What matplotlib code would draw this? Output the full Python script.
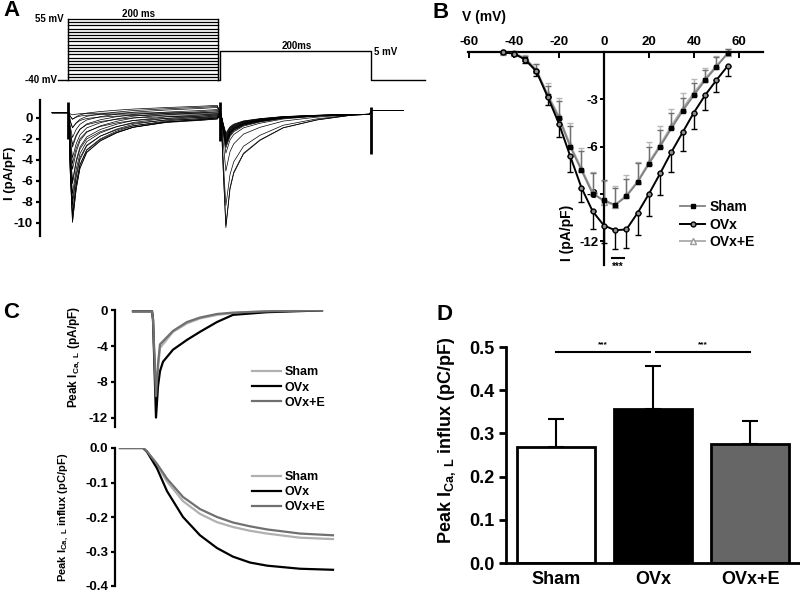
import numpy as np
import matplotlib.pyplot as plt

plt.rcParams['font.family'] = ['Liberation Sans', 'DejaVu Sans']
plt.rcParams['font.weight'] = 'bold'
plt.rcParams['axes.labelweight'] = 'bold'
plt.rcParams['axes.unicode_minus'] = False
plt.rcParams['mathtext.fontset'] = 'custom'
plt.rcParams['mathtext.rm'] = 'Liberation Sans:bold'
plt.rcParams['mathtext.it'] = 'Liberation Sans:bold'
plt.rcParams['mathtext.bf'] = 'Liberation Sans:bold'

W, H = 800, 594

# ---------------- data ----------------
# A: voltage protocol
step_mv = [-40, -35, -30, -25, -20, -15, -10, -5, 0, 5, 10, 15, 20, 25, 30, 35, 40, 45, 50, 55]
hold_mv = -40
test_mv = 5
hold_start = -13
pre_ms = 200
gap_ms = 3
test_ms = 201
proto_end = 476

# A: current traces (one per prepulse step)
peak1 = [-0.2, -0.6, -1.4, -3.0, -4.8, -6.7, -8.3, -9.7, -10.4, -10.3,
         -9.7, -8.8, -7.7, -6.5, -5.4, -4.3, -3.3, -2.4, -1.5, -0.7]
base1 = [0.5, 0.4, 0.3, 0.2, 0.1, 0.0, -0.1, -0.1, 0.0, 0.0,
         0.1, 0.2, 0.3, 0.4, 0.6, 0.7, 0.8, 1.0, 1.1, 1.2]
peak2 = [-10.8, -10.6, -8.7, -5.4, -3.7, -3.2, -3.0, -2.9, -2.8, -2.7,
         -2.6, -2.6, -2.5, -2.4, -2.3, -2.2, -2.1, -2.0, -1.9, -1.8]
start1 = 0.5
test_level = 0.35
t1 = [1, 3, 6, 11, 16, 25, 43, 65, 87, 131, 176, 199]
shape1 = [0, 0.55, 1.0, 0.69, 0.5, 0.35, 0.24, 0.16, 0.105, 0.05, 0.02, 0.0]
ramp1 = [0, 0.05, 0.1, 0.15, 0.2, 0.3, 0.4, 0.5, 0.6, 0.75, 0.9, 1.0]
t2 = [1, 4, 7.5, 13, 18, 31, 53, 84, 129, 173, 199]
shape2 = [0, 0.5, 1.0, 0.66, 0.52, 0.35, 0.23, 0.12, 0.05, 0.01, 0]
pre_t = [-21, -1]
pre_level = 0.5
post_t = [405, 447]
post_level = 0.7
spike_t = [0, 203, 404]
spike_hi = [1.5, 1.5, 1.0]
spike_lo = [-2.0, -2.2, -3.4]

# B: I-V relation
iv_mv = [-45, -40, -35, -30, -25, -20, -15, -10, -5, 0, 5, 10, 15, 20, 25, 30, 35, 40, 45, 50, 55]
sham = [-0.05, -0.1, -0.45, -1.2, -2.8, -4.2, -6.0, -7.5, -9.0, -9.4, -9.7,
        -9.15, -8.25, -7.1, -6.0, -4.85, -3.75, -2.75, -1.8, -0.95, -0.1]
ovx = [-0.05, -0.12, -0.5, -1.25, -2.85, -4.55, -6.6, -8.6, -10.1, -11.0, -11.3,
       -11.25, -10.2, -9.0, -7.7, -6.35, -5.1, -3.85, -2.75, -1.8, -0.9]
ovxe = [-0.05, -0.1, -0.4, -1.15, -2.7, -4.1, -5.9, -7.4, -8.9, -9.5, -9.7,
        -9.1, -8.2, -7.0, -5.9, -4.7, -3.6, -2.6, -1.7, -0.9, -0.1]
sham_err = [0.05, 0.1, 0.2, 0.4, 0.6, 1.1, 1.3, 1.2, 1.3, 1.3, 1.1,
            1.1, 1.2, 1.1, 1.05, 0.95, 0.8, 0.75, 0.65, 0.6, 0.3]
ovxe_err = [0.05, 0.1, 0.2, 0.4, 0.7, 1.2, 1.4, 1.3, 1.3, 1.3, 1.2,
            1.3, 1.2, 1.3, 1.2, 1.1, 1.0, 0.9, 0.7, 0.6, 0.3]
ovx_err = [0.05, 0.1, 0.2, 0.3, 0.5, 0.85, 1.0, 0.9, 1.1, 1.1, 1.16,
           1.2, 1.4, 1.37, 1.4, 1.27, 1.16, 1.06, 0.95, 0.74, 0.65]
sig_mv = [3.6, 8.9]
sig_level = -13.08

# C top: peak current traces
c_sham_t = [0, 19, 20, 23, 25, 27, 40, 54, 67, 84, 100, 134, 189]
c_sham = [-0.1, -0.1, -1.0, -10.0, -6.5, -4.2, -2.4, -1.45, -0.9, -0.5, -0.3, -0.1, 0.0]
c_ovx_t = [0, 19, 20, 23, 25, 27, 30, 40, 54, 67, 84, 100, 134, 189]
c_ovx = [-0.1, -0.1, -1.0, -12.0, -8.5, -6.8, -5.75, -4.4, -3.3, -2.4, -1.3, -0.5, -0.2, 0.0]
c_ovxe_t = [0, 19, 20, 23, 25, 27, 40, 54, 67, 84, 100, 134, 189]
c_ovxe = [-0.1, -0.1, -1.0, -9.6, -6.0, -3.8, -2.3, -1.3, -0.8, -0.4, -0.25, -0.1, 0.0]

# C bottom: integrated influx
q_t = [-13, 10, 14, 24, 34, 50, 67, 84, 100, 117, 134, 167, 200]
q_sham = [0, 0, -0.01, -0.049, -0.097, -0.154, -0.191, -0.215, -0.229, -0.24, -0.248, -0.26, -0.264]
q_ovx = [0, 0, -0.011, -0.059, -0.125, -0.2, -0.253, -0.29, -0.315, -0.332, -0.341, -0.35, -0.353]
q_ovxe = [0, 0, -0.01, -0.046, -0.089, -0.142, -0.177, -0.2, -0.216, -0.227, -0.236, -0.248, -0.253]

# D: bar chart
groups = ['Sham', 'OVx', 'OVx+E']
influx = [0.268, 0.357, 0.275]
influx_err = [0.065, 0.100, 0.054]
bar_colors = ['white', 'black', '#666666']
sig_pairs = [(0, 0.97), (1.03, 2.0)]
sig_y = 0.488

fig = plt.figure(figsize=(W / 100, H / 100), dpi=100)


def add_ax(x0, y0, x1, y1):
    return fig.add_axes([x0 / W, 1 - y1 / H, (x1 - x0) / W, (y1 - y0) / H])


def ftext(x, y, s, **kw):
    fig.text(x / W, 1 - y / H, s, **kw)


def left_only(ax, lw=1.6):
    for s in ['top', 'right', 'bottom']:
        ax.spines[s].set_visible(False)
    ax.spines['left'].set_linewidth(lw)
    ax.set_xticks([])
    ax.tick_params(axis='y', width=lw, length=3)


# ---------------- A: protocol ----------------
ax = add_ax(40, 10, 430, 85)
ax.set_xlim(-37.33, 482.67)
ax.set_ylim(-47.8, 69.0)
ax.axis('off')
for v in step_mv:
    ax.plot([0, pre_ms], [v, v], color='black', lw=0.9)
ax.plot([0, 0], [min(step_mv), max(step_mv)], color='black', lw=1)
ax.plot([pre_ms, pre_ms], [min(step_mv), max(step_mv)], color='black', lw=1)
ax.plot([hold_start, 0], [hold_mv, hold_mv], color='black', lw=1)
tx = [pre_ms, pre_ms + gap_ms, pre_ms + gap_ms, pre_ms + gap_ms + test_ms,
      pre_ms + gap_ms + test_ms, proto_end]
ty = [hold_mv, hold_mv, test_mv, test_mv, hold_mv, hold_mv]
ax.plot(tx, ty, color='black', lw=1)
ftext(64, 19, '55 mV', ha='right', va='center', fontsize=7)
ftext(57, 80, '-40 mV', ha='right', va='center', fontsize=7)
ftext(138, 14, '200 ms', ha='center', va='center', fontsize=7)
ftext(297, 46, '200ms', ha='center', va='center', fontsize=7)
ftext(374, 52, '5 mV', ha='left', va='center', fontsize=7)

# ---------------- A: traces ----------------
ax = add_ax(40, 100, 430, 236)
ax.set_xlim(-37.33, 482.67)
ax.set_ylim(-11.24, 1.71)
left_only(ax)
t1a = np.array(t1)
t2a = np.array(t2) + pre_ms + gap_ms
for p1, b1, p2 in zip(peak1, base1, peak2):
    seg1 = start1 + (b1 - start1) * np.array(ramp1) + p1 * np.array(shape1)
    seg2 = test_level + p2 * np.array(shape2)
    t = np.concatenate([pre_t, t1a, t2a, post_t])
    y = np.concatenate([[pre_level] * 2, seg1, seg2, [post_level] * 2])
    ax.plot(t, y, color='black', lw=0.5)
ax.vlines(spike_t, spike_lo, spike_hi, color='black', lw=2)
ax.set_yticks([0, -2, -4, -6, -8, -10])
ax.tick_params(axis='y', labelsize=9.5, pad=2)
ax.set_ylabel('I (pA/pF)', fontsize=9.5)
ax.yaxis.set_label_coords(-0.062, 0.46)

# ---------------- B: I-V ----------------
ax = add_ax(468, 51.7, 763, 265)
ax.set_xlim(-60.4, 70.7)
ax.set_ylim(-13.5, 0)
ax.spines['bottom'].set_visible(False)
ax.spines['right'].set_visible(False)
ax.spines['left'].set_position(('data', 0))
ax.spines['left'].set_linewidth(1.6)
ax.spines['top'].set_linewidth(1.6)
ax.xaxis.tick_top()
ax.set_xticks([-60, -40, -20, 0, 20, 40, 60])
ax.set_yticks([-3, -6, -9, -12])
ax.tick_params(axis='x', direction='in', length=4, width=1.4, labelsize=9.5, pad=3)
ax.tick_params(axis='y', direction='out', length=3, width=1.4, labelsize=9.5, pad=1)
zeros = [0] * len(iv_mv)
e3 = ax.errorbar(iv_mv, ovxe, yerr=[zeros, ovxe_err], fmt='-^', color='#b0b0b0',
                 mfc='white', mec='#999999', ms=4, lw=1.4, ecolor='#b8b8b8',
                 elinewidth=1, capsize=2.5, clip_on=False, zorder=2)
e1 = ax.errorbar(iv_mv, sham, yerr=[zeros, sham_err], fmt='-s', color='#808080',
                 mfc='black', mec='black', ms=3, lw=1.3, ecolor='#707070',
                 elinewidth=1, capsize=2.5, clip_on=False, zorder=3)
e2 = ax.errorbar(iv_mv, ovx, yerr=[ovx_err, zeros], fmt='-o', color='black',
                 mfc='#909090', mec='black', ms=3.5, lw=1.4, ecolor='black',
                 elinewidth=1, capsize=2.5, clip_on=False, zorder=4)
ax.legend([e1[0], e2[0], e3[0]], ['Sham', 'OVx', 'OVx+E'], loc='upper left',
          bbox_to_anchor=(0.7, 0.33), frameon=False, fontsize=10,
          handlelength=1.8, handletextpad=0.3, labelspacing=0.25, borderaxespad=0)
ax.plot(sig_mv, [sig_level] * 2, color='black', lw=1.5)
ax.text(np.mean(sig_mv), sig_level - 0.25, '***', ha='center', va='top', fontsize=7)
ax.text(0.336, 0.15, 'I (pA/pF)', transform=ax.transAxes, rotation=90,
        ha='center', va='center', fontsize=10)
ax.text(-0.02, 1.163, 'V (mV)', transform=ax.transAxes, ha='left', va='center',
        fontsize=10)

# ---------------- C top ----------------
ax = add_ax(115, 310.4, 335, 426.5)
ax.set_xlim(-18, 202)
ax.set_ylim(-13, 0)
left_only(ax)
ax.plot(c_sham_t, c_sham, color='#b0b0b0', lw=1.6, label='Sham')
ax.plot(c_ovx_t, c_ovx, color='black', lw=1.6, label='OVx')
ax.plot(c_ovxe_t, c_ovxe, color='#707070', lw=1.6, label='OVx+E')
ax.set_yticks([0, -4, -8, -12])
ax.tick_params(axis='y', labelsize=9.5, pad=2)
ax.set_ylabel(r'Peak I$_{\rm Ca,\ L}$ (pA/pF)', fontsize=8.5)
ax.yaxis.set_label_coords(-0.145, 0.6)
ax.legend(loc='upper left', bbox_to_anchor=(0.6, 0.56), frameon=False, fontsize=9,
          handlelength=2.3, handletextpad=0.3, labelspacing=0.25, borderaxespad=0)

# ---------------- C bottom ----------------
ax = add_ax(115, 448, 335, 586)
ax.set_xlim(-18, 202)
ax.set_ylim(-0.4, 0)
left_only(ax)
ax.plot(q_t, q_sham, color='#b0b0b0', lw=1.6, label='Sham')
ax.plot(q_t, q_ovx, color='black', lw=1.6, label='OVx')
ax.plot(q_t, q_ovxe, color='#707070', lw=1.6, label='OVx+E')
ax.set_yticks([0.0, -0.1, -0.2, -0.3, -0.4])
ax.set_yticklabels(['0.0', '-0.1', '-0.2', '-0.3', '-0.4'])
ax.tick_params(axis='y', labelsize=9.5, pad=2)
ax.set_ylabel(r'Peak I$_{\rm Ca,\ L}$ influx (pC/pF)', fontsize=8)
ax.yaxis.set_label_coords(-0.2, 0.5)
ax.legend(loc='upper left', bbox_to_anchor=(0.6, 0.87), frameon=False, fontsize=9,
          handlelength=2.3, handletextpad=0.3, labelspacing=0.25, borderaxespad=0)

# ---------------- D ----------------
ax = add_ax(506, 347, 800, 563)
ax.set_xlim(-0.51, 2.51)
ax.set_ylim(0, 0.5)
x = np.arange(len(groups))
ax.bar(x, influx, width=0.8, color=bar_colors, edgecolor='black', linewidth=2, zorder=2)
ax.errorbar(x, influx, yerr=[[0] * 3, influx_err], fmt='none', ecolor='black',
            elinewidth=1.5, capsize=6, capthick=1.5, zorder=1)
for s in ['top', 'right']:
    ax.spines[s].set_visible(False)
for s in ['left', 'bottom']:
    ax.spines[s].set_linewidth(2)
ax.set_xticks(x)
ax.set_xticklabels(groups)
ax.set_yticks([0.0, 0.1, 0.2, 0.3, 0.4, 0.5])
ax.set_yticklabels(['0.0', '0.1', '0.2', '0.3', '0.4', '0.5'])
ax.tick_params(axis='x', length=0, labelsize=13, pad=6)
ax.tick_params(axis='y', width=2, length=5, labelsize=13)
ax.set_ylabel(r'Peak I$_{\rm Ca,\ L}$ influx (pC/pF)', fontsize=13)
ax.yaxis.set_label_coords(-0.163, 0.57)
for a, b in sig_pairs:
    ax.plot([a, b], [sig_y, sig_y], color='black', lw=1.5, clip_on=False)
    ax.text((a + b) / 2, sig_y + 0.008, '***', ha='center', va='bottom', fontsize=6)

# panel letters
ftext(3, 11, 'A', fontsize=16, va='center')
ftext(433, 12, 'B', fontsize=16, va='center')
ftext(3, 312, 'C', fontsize=16, va='center')
ftext(436, 315, 'D', fontsize=16, va='center')

fig.savefig('out.png', dpi=100)
